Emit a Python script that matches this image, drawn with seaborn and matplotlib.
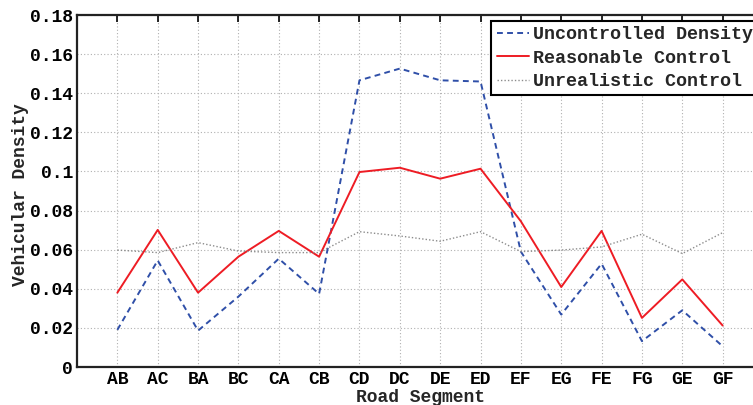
import matplotlib
matplotlib.use("Agg")
import matplotlib.pyplot as plt
import seaborn as sns
import pandas as pd

segments = ["AB", "AC", "BA", "BC", "CA", "CB", "CD", "DC", "DE", "ED",
            "EF", "EG", "FE", "FG", "GE", "GF"]
uncontrolled = [0.019, 0.0545, 0.0186, 0.036, 0.0554, 0.0374, 0.1466, 0.1526,
                0.1466, 0.146, 0.059, 0.0268, 0.0528, 0.0132, 0.029, 0.0106]
reasonable = [0.038, 0.0701, 0.038, 0.0564, 0.0696, 0.0564, 0.0997, 0.1019,
              0.0963, 0.1014, 0.0745, 0.0409, 0.0696, 0.0251, 0.0448, 0.0212]
unrealistic = [0.0598, 0.0585, 0.0636, 0.0593, 0.0585, 0.0585, 0.0692, 0.067,
               0.0643, 0.0692, 0.059, 0.0598, 0.0614, 0.0679, 0.058, 0.0687]
series_names = ["Uncontrolled Density", "Reasonable Control", "Unrealistic Control"]
y_ticks = [0, 0.02, 0.04, 0.06, 0.08, 0.1, 0.12, 0.14, 0.16, 0.18]
y_tick_labels = ["0", "0.02", "0.04", "0.06", "0.08", "0.1", "0.12", "0.14", "0.16", "0.18"]

rows = []
for name, vals in zip(series_names, [uncontrolled, reasonable, unrealistic]):
    for seg, v in zip(segments, vals):
        rows.append({"Road Segment": seg, "Vehicular Density": v, "Series": name})
df = pd.DataFrame(rows)

sns.set_style("white")
plt.rcParams["font.family"] = ["Liberation Mono", "DejaVu Sans Mono"]
plt.rcParams["font.weight"] = "bold"

fig = plt.figure(figsize=(7.53, 4.05), dpi=100)
ax = fig.add_axes([77 / 753, 38 / 405, (763 - 77) / 753, 352 / 405])

palette = {"Uncontrolled Density": "#2f4fa8",
           "Reasonable Control": "#ee1c24",
           "Unrealistic Control": "#8c8c8c"}
widths = {"Uncontrolled Density": 1.4, "Reasonable Control": 1.4, "Unrealistic Control": 1.0}
sns.lineplot(data=df, x="Road Segment", y="Vehicular Density", hue="Series",
             style="Series", palette=palette, sort=False, ax=ax,
             dashes={"Uncontrolled Density": (3, 2.2),
                     "Reasonable Control": "",
                     "Unrealistic Control": (1, 1.5)},
             legend=True)
for ln in ax.get_lines():
    c = matplotlib.colors.to_hex(ln.get_color())
    for k, col in palette.items():
        if c == col:
            ln.set_linewidth(widths[k])

ax.set_xlim(-1, 16)
ax.set_ylim(0, 0.18)
ax.set_yticks(y_ticks)
ax.set_yticklabels(y_tick_labels)
ax.set_xticks(range(len(segments)))
ax.set_xticklabels(segments)

ax.grid(True, linestyle=(0, (1, 2)), color="#b0b0b0", linewidth=0.8)
ax.tick_params(direction="in", length=5, width=1.2, top=True, right=True,
               labelsize=13, colors="black")
ax.tick_params(axis="x", pad=3)
ax.tick_params(axis="y", pad=3)
for lab in ax.get_xticklabels() + ax.get_yticklabels():
    lab.set_fontweight("bold")
for sp in ax.spines.values():
    sp.set_visible(True)
    sp.set_linewidth(1.6)
    sp.set_color("#222222")

ax.set_xlabel("Road Segment", fontsize=13, fontweight="bold")
ax.xaxis.set_label_coords(0.5, -0.063)
ax.set_ylabel("Vehicular Density", fontsize=13, fontweight="bold")
ax.yaxis.set_label_coords(-0.07, 0.49)

handles, labels = ax.get_legend_handles_labels()
leg = ax.legend(handles, labels, loc="upper right", bbox_to_anchor=(0.994, 0.984),
                fontsize=13.2, frameon=True, fancybox=False, framealpha=1,
                edgecolor="black", handlelength=1.75, handletextpad=0.25,
                borderpad=0.3, labelspacing=0.35, borderaxespad=0)
leg.get_frame().set_linewidth(1.5)
for t in leg.get_texts():
    t.set_fontweight("bold")
for lh, name in zip(leg.get_lines(), labels):
    lh.set_linewidth(widths.get(name, 1.2))

fig.savefig("out.png", dpi=100)
